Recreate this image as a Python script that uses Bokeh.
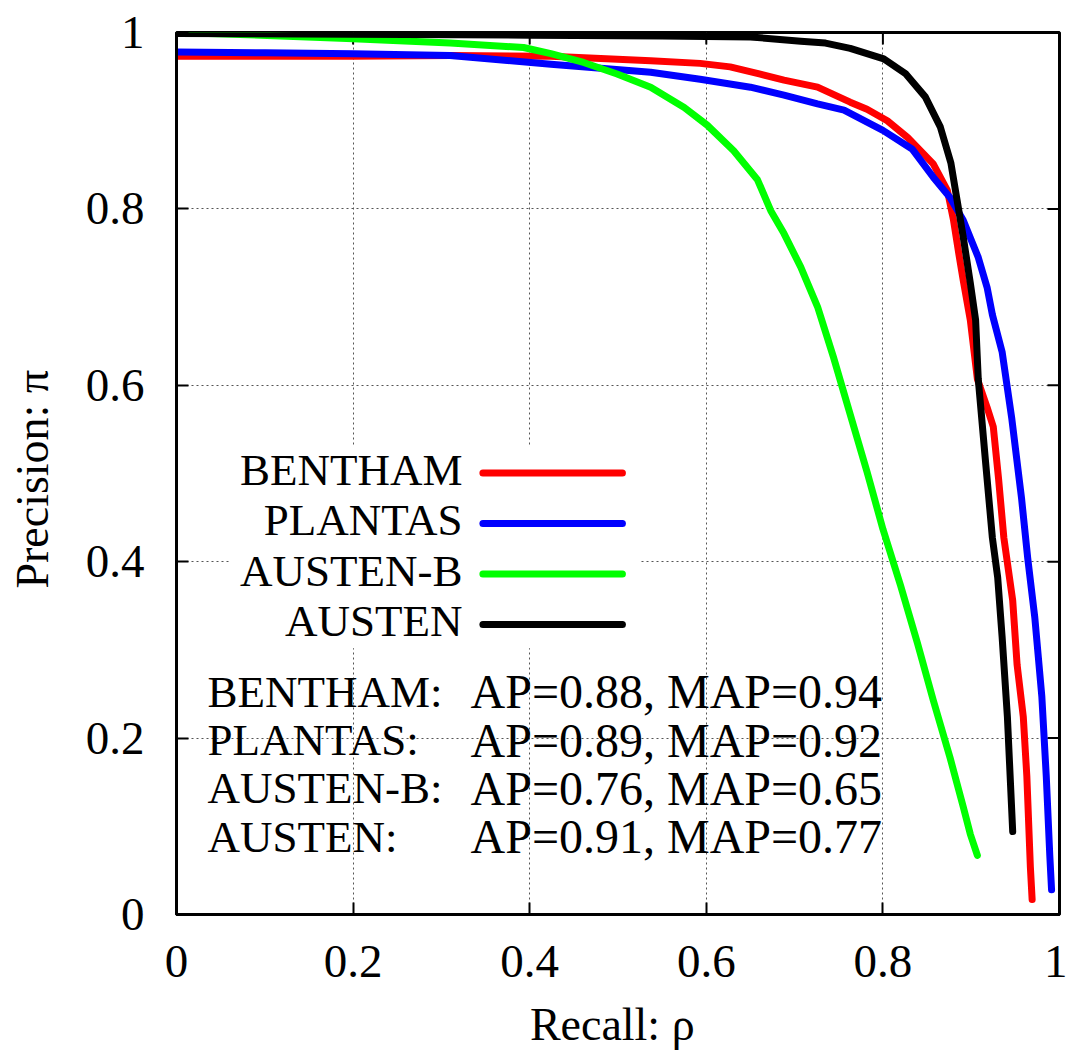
from bokeh.plotting import figure
from bokeh.models import FixedTicker, Range1d, BoxAnnotation
from bokeh.core.properties import value
from bokeh.embed import file_html
from bokeh.resources import INLINE

# ---------------- data ----------------
SERIES = ["BENTHAM", "PLANTAS", "AUSTEN-B", "AUSTEN"]
COLORS = ["#ff0000", "#0000ff", "#00ff00", "#000000"]
AP = [0.88, 0.89, 0.76, 0.91]
MAP = [0.94, 0.92, 0.65, 0.77]

bentham_recall = [0.0, 0.1, 0.2, 0.31, 0.424, 0.537, 0.593, 0.627, 0.66, 0.688, 0.726, 0.763,
                  0.782, 0.805, 0.828, 0.857, 0.873, 0.880, 0.886, 0.891, 0.899, 0.907, 0.918,
                  0.925, 0.931, 0.937, 0.947, 0.952, 0.959, 0.963, 0.967, 0.969]
bentham_precision = [0.973, 0.973, 0.973, 0.974, 0.973, 0.968, 0.965, 0.961, 0.953, 0.946, 0.938,
                     0.921, 0.913, 0.900, 0.881, 0.851, 0.821, 0.787, 0.749, 0.719, 0.674, 0.607,
                     0.575, 0.553, 0.494, 0.427, 0.356, 0.283, 0.224, 0.157, 0.054, 0.017]

plantas_recall = [0.0, 0.1, 0.2, 0.31, 0.424, 0.537, 0.593, 0.65, 0.688, 0.726, 0.756, 0.800,
                  0.833, 0.857, 0.876, 0.891, 0.908, 0.918, 0.924, 0.935, 0.946, 0.957, 0.964,
                  0.972, 0.980, 0.985, 0.989, 0.991]
plantas_precision = [0.978, 0.977, 0.976, 0.974, 0.964, 0.955, 0.947, 0.938, 0.929, 0.919, 0.912,
                     0.889, 0.868, 0.836, 0.813, 0.787, 0.745, 0.711, 0.680, 0.638, 0.562, 0.472,
                     0.404, 0.337, 0.247, 0.157, 0.067, 0.028]

austenb_recall = [0.0, 0.095, 0.2, 0.31, 0.393, 0.424, 0.461, 0.499, 0.537, 0.575, 0.601, 0.631,
                  0.658, 0.673, 0.688, 0.707, 0.726, 0.744, 0.763, 0.782, 0.800, 0.820, 0.839,
                  0.857, 0.876, 0.891, 0.899, 0.907]
austenb_precision = [1.0, 0.997, 0.993, 0.988, 0.983, 0.976, 0.966, 0.953, 0.938, 0.915, 0.895,
                     0.866, 0.833, 0.798, 0.772, 0.734, 0.689, 0.632, 0.567, 0.502, 0.437, 0.373,
                     0.308, 0.243, 0.178, 0.122, 0.091, 0.067]

austen_recall = [0.0, 0.2, 0.4, 0.55, 0.65, 0.707, 0.735, 0.763, 0.801, 0.826, 0.848, 0.865,
                 0.877, 0.884, 0.891, 0.899, 0.905, 0.908, 0.916, 0.924, 0.930, 0.935, 0.941, 0.947]
austen_precision = [0.999, 0.998, 0.997, 0.996, 0.995, 0.990, 0.988, 0.982, 0.970, 0.953, 0.927,
                    0.893, 0.852, 0.810, 0.768, 0.716, 0.674, 0.607, 0.516, 0.427, 0.382, 0.315,
                    0.224, 0.094]

TICKS = [0.0, 0.2, 0.4, 0.6, 0.8, 1.0]
TICK_LABELS = ["0", "0.2", "0.4", "0.6", "0.8", "1"]

RECALLS = [bentham_recall, plantas_recall, austenb_recall, austen_recall]
PRECISIONS = [bentham_precision, plantas_precision, austenb_precision, austen_precision]

# ---------------- layout constants ----------------
FONT = "Liberation Serif"
FRAME_W, FRAME_H = 883, 883
BORDER_L, BORDER_R, BORDER_T, BORDER_B = 176, 8, 32, 137
TICK_LEN_PX = 12
LEG_TEXT_X = 0.324
LEG_LINE_X0, LEG_LINE_X1 = 0.347, 0.505
LEG_TOP, LEG_STEP, LEG_LINE_DROP = 0.504, 0.0572, 0.0035
STAT_NAME_X, STAT_VAL_X = 0.035, 0.333
STAT_TOP, STAT_STEP = 0.2526, 0.0548

p = figure(width=BORDER_L + FRAME_W + BORDER_R, height=BORDER_T + FRAME_H + BORDER_B,
           x_range=Range1d(0, 1), y_range=Range1d(0, 1),
           output_backend="svg", toolbar_location=None,
           min_border_left=BORDER_L, min_border_right=BORDER_R,
           min_border_top=BORDER_T, min_border_bottom=BORDER_B,
           x_axis_label="Recall:  ρ", y_axis_label="Precision:  π")
p.background_fill_color = "white"
p.border_fill_color = "white"
p.outline_line_color = "black"
p.outline_line_width = 3
p.outline_line_alpha = 1.0

overrides = {t: l for t, l in zip(TICKS, TICK_LABELS)}

for ax in p.xaxis + p.yaxis:
    ax.ticker = FixedTicker(ticks=TICKS)
    ax.axis_line_color = "black"
    ax.axis_line_width = 3
    ax.major_tick_in = TICK_LEN_PX
    ax.major_tick_out = 0
    ax.major_tick_line_width = 2
    ax.major_tick_line_color = "black"
    ax.minor_tick_in = 0
    ax.minor_tick_out = 0
    ax.major_label_overrides = overrides
    ax.major_label_text_font = FONT
    ax.major_label_text_font_size = "47px"
    ax.major_label_text_color = "black"
    ax.axis_label_text_font = FONT
    ax.axis_label_text_font_size = "46px"
    ax.axis_label_text_font_style = "normal"
    ax.axis_label_text_color = "black"

for ax in p.xaxis:
    ax.major_label_standoff = 31
    ax.axis_label_standoff = 19
for ax in p.yaxis:
    ax.major_label_standoff = 32
    ax.axis_label_standoff = 25

for g in (p.xgrid, p.ygrid):
    g.ticker = FixedTicker(ticks=TICKS)
    g.grid_line_color = "#555555"
    g.grid_line_width = 1
    g.grid_line_dash = "2 3"
    g.grid_line_alpha = 1.0

# mirrored inward ticks on the top and right edges (same tick positions as the axes)
tick_dx = TICK_LEN_PX / FRAME_W
tick_dy = TICK_LEN_PX / FRAME_H
p.segment(x0=TICKS, x1=TICKS, y0=[1.0] * len(TICKS), y1=[1.0 - tick_dy] * len(TICKS),
          line_color="black", line_width=2)
p.segment(x0=[1.0] * len(TICKS), x1=[1.0 - tick_dx] * len(TICKS), y0=TICKS, y1=TICKS,
          line_color="black", line_width=2)

# opaque key box (masks the grid behind the key)
p.add_layout(BoxAnnotation(left=0.06, right=0.524, bottom=0.302, top=0.532,
                           fill_color="white", fill_alpha=1.0, line_color=None,
                           level="underlay"))

# curves
for rx, py, col in zip(RECALLS, PRECISIONS, COLORS):
    p.line(rx, py, line_color=col, line_width=7, line_cap="round", line_join="round")

# key
n = len(SERIES)
leg_y = [LEG_TOP - i * LEG_STEP for i in range(n)]
p.text(x=[LEG_TEXT_X] * n, y=leg_y, text=SERIES, text_align="right",
       text_baseline="middle", text_font=value(FONT), text_font_size="45px",
       text_color="black")
p.segment(x0=[LEG_LINE_X0] * n, x1=[LEG_LINE_X1] * n,
          y0=[y - LEG_LINE_DROP for y in leg_y], y1=[y - LEG_LINE_DROP for y in leg_y],
          line_color=COLORS, line_width=7, line_cap="round")

# statistics
stat_y = [STAT_TOP - i * STAT_STEP for i in range(n)]
p.text(x=[STAT_NAME_X] * n, y=stat_y, text=[s + ":" for s in SERIES], text_align="left",
       text_baseline="middle", text_font=value(FONT), text_font_size="45px",
       text_color="black")
p.text(x=[STAT_VAL_X] * n, y=stat_y,
       text=[f"AP={a:.2f}, MAP={m:.2f}" for a, m in zip(AP, MAP)], text_align="left",
       text_baseline="middle", text_font=value(FONT), text_font_size="48px",
       text_color="black")

open("out.html", "w").write(file_html(p, INLINE))
